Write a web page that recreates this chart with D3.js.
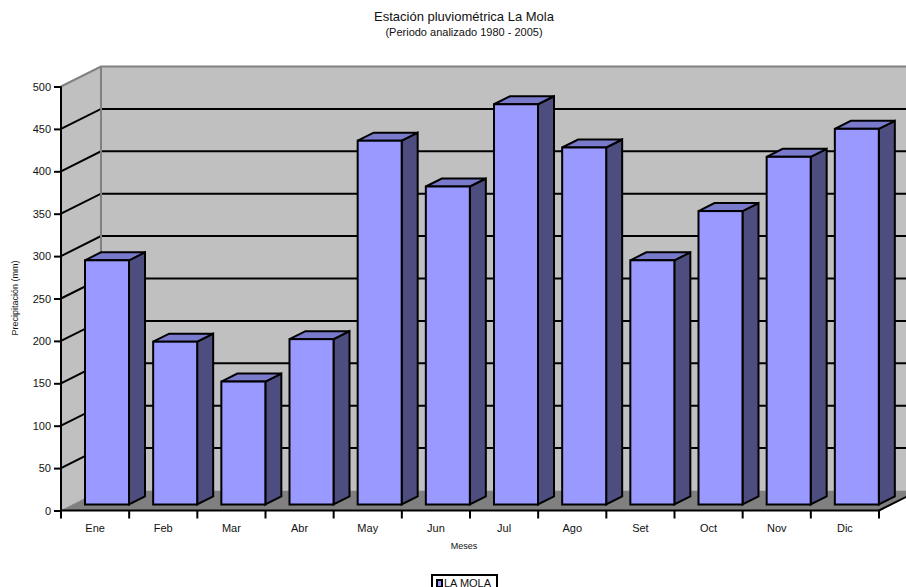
<!DOCTYPE html>
<html>
<head>
<meta charset="utf-8">
<script src="https://cdn.jsdelivr.net/npm/d3@7/dist/d3.min.js"></script>
<style>
html,body{margin:0;padding:0;background:#fff;overflow:hidden}
svg{display:block}
text{font-family:"Liberation Sans",Arial,sans-serif;fill:#111}
</style>
</head>
<body>
<svg id="chart" width="906" height="587"></svg>
<script>
const months = ["Ene","Feb","Mar","Abr","May","Jun","Jul","Ago","Set","Oct","Nov","Dic"];
const rainfall = [288,192,145,195,429,375,472,421,288,346,410,443];
const yTicks = [0,50,100,150,200,250,300,350,400,450,500];

const svg = d3.select("#chart");
const x = d3.scaleBand().domain(months).range([61,879]);
const y = d3.scaleLinear().domain([0,500]).range([510.5,86.5]);

// Depth of the chart box and of each bar, in pixels
const wall = {dx:40, dy:-20};
const bar = {dx:16, dy:-8, inset:24, width:44, base:-6};

const poly = pts => pts.map(p => p.join(",")).join(" ");
const x0 = x.range()[0], x1 = x.range()[1];
const y0 = y(0), yTop = y(500);

// Back wall, side wall and floor
svg.append("polygon")
  .attr("points", poly([[x0+wall.dx,yTop+wall.dy],[930,yTop+wall.dy],[930,y0+wall.dy],[x0+wall.dx,y0+wall.dy]]))
  .attr("fill","#c0c0c0");
svg.append("polygon")
  .attr("points", poly([[x0,yTop],[x0+wall.dx,yTop+wall.dy],[x0+wall.dx,y0+wall.dy],[x0,y0]]))
  .attr("fill","#c0c0c0");
svg.append("polygon")
  .attr("points", poly([[x0,y0],[x0+wall.dx,y0+wall.dy],[x1+wall.dx,y0+wall.dy],[x1,y0]]))
  .attr("fill","#808080");

// Gridlines wrap from the side wall onto the back wall
const grid = yTicks.filter(v => v > 0 && v < 500);
svg.append("g").selectAll("polyline").data(grid).join("polyline")
  .attr("points", v => poly([[x0,y(v)],[x0+wall.dx,y(v)+wall.dy],[930,y(v)+wall.dy]]))
  .attr("fill","none").attr("stroke","#000").attr("stroke-width",2);

// Wall edges
svg.append("polyline")
  .attr("points", poly([[x0,yTop],[x0+wall.dx,yTop+wall.dy],[930,yTop+wall.dy]]))
  .attr("fill","none").attr("stroke","#808080").attr("stroke-width",2);
svg.append("line")
  .attr("x1",x0+wall.dx).attr("x2",x0+wall.dx)
  .attr("y1",yTop+wall.dy).attr("y2",y0+wall.dy)
  .attr("stroke","#808080").attr("stroke-width",2);
svg.append("line")
  .attr("x1",x0).attr("y1",y0).attr("x2",x0+wall.dx).attr("y2",y0+wall.dy)
  .attr("stroke","#808080").attr("stroke-width",1).attr("stroke-dasharray","2 1");

// Bars: front, top and side faces
const bars = svg.append("g").selectAll("g").data(months).join("g")
  .attr("stroke","#000").attr("stroke-width",2).attr("stroke-linejoin","miter");
const barLeft = m => x(m) + bar.inset;
const barRight = m => barLeft(m) + bar.width;
const barTop = (m,i) => y(rainfall[i]) + bar.base;
const barBottom = y0 + bar.base;
bars.append("polygon").attr("fill","#4d4d80")
  .attr("points",(m,i) => poly([[barRight(m),barTop(m,i)],[barRight(m)+bar.dx,barTop(m,i)+bar.dy],[barRight(m)+bar.dx,barBottom+bar.dy],[barRight(m),barBottom]]));
bars.append("polygon").attr("fill","#7a7acc")
  .attr("points",(m,i) => poly([[barLeft(m),barTop(m,i)],[barLeft(m)+bar.dx,barTop(m,i)+bar.dy],[barRight(m)+bar.dx,barTop(m,i)+bar.dy],[barRight(m),barTop(m,i)]]));
bars.append("rect").attr("fill","#9999ff")
  .attr("x",barLeft).attr("width",bar.width)
  .attr("y",(m,i) => barTop(m,i)).attr("height",(m,i) => barBottom - barTop(m,i));

// Axes
const yAxis = d3.axisLeft(y).tickValues(yTicks).tickSize(7).tickPadding(3);
const gy = svg.append("g").attr("transform",`translate(${x0},0)`).call(yAxis);
gy.selectAll("text").attr("font-size",11).attr("font-family","Liberation Sans");
gy.selectAll("line,path").attr("stroke","#000").attr("stroke-width",2);
gy.select("path").attr("d",`M0,${yTop}V${y0}`);

const xAxis = d3.axisBottom(x).tickSize(0).tickPadding(14);
const gx = svg.append("g").attr("transform",`translate(0,${y0})`).call(xAxis);
gx.selectAll("text").attr("font-size",11).attr("font-family","Liberation Sans");
gx.select("path").attr("d",`M${x0},0H${x1}`).attr("stroke","#000").attr("stroke-width",2);
gx.append("g").selectAll("line").data(months.concat(["end"])).join("line")
  .attr("x1",(m,i) => x0 + i*x.step()).attr("x2",(m,i) => x0 + i*x.step())
  .attr("y1",0).attr("y2",8).attr("stroke","#000").attr("stroke-width",2);
svg.append("line").attr("x1",x1).attr("y1",y0).attr("x2",x1+wall.dx).attr("y2",y0+wall.dy)
  .attr("stroke","#000").attr("stroke-width",2);

// Titles
svg.append("text").attr("x",464).attr("y",21).attr("text-anchor","middle").attr("font-size",13).text("Estación pluviométrica La Mola");
svg.append("text").attr("x",464).attr("y",36).attr("text-anchor","middle").attr("font-size",11).text("(Periodo analizado 1980 - 2005)");
svg.append("text").attr("x",464).attr("y",549).attr("text-anchor","middle").attr("font-size",9).text("Meses");
svg.append("text").attr("transform","translate(18,298) rotate(-90)").attr("text-anchor","middle").attr("font-size",9).text("Precipitación (mm)");

// Legend
svg.append("rect").attr("x",432).attr("y",575).attr("width",65).attr("height",20)
  .attr("fill","#fff").attr("stroke","#000").attr("stroke-width",2);
svg.append("rect").attr("x",437).attr("y",580).attr("width",5).attr("height",7)
  .attr("fill","#9999ff").attr("stroke","#000").attr("stroke-width",2);
svg.append("text").attr("x",444).attr("y",587).attr("font-size",11).text("LA MOLA");
</script>
</body>
</html>
